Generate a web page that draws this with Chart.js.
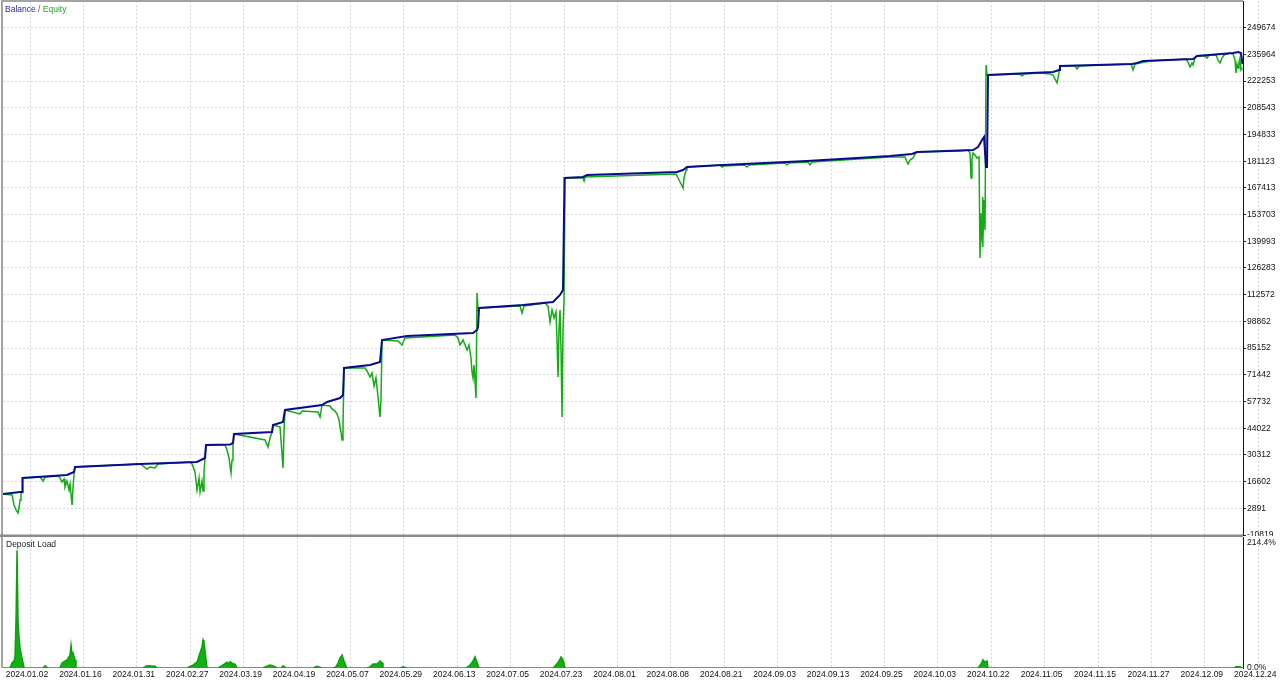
<!DOCTYPE html>
<html>
<head>
<meta charset="utf-8">
<title>Balance / Equity</title>
<script src="https://cdn.jsdelivr.net/npm/chart.js@4.4.1/dist/chart.umd.min.js"></script>
<style>
  html, body { margin: 0; padding: 0; background: #fff; }
  body { width: 1280px; height: 682px; position: relative; overflow: hidden; font-family: 'Liberation Sans', Arial, sans-serif; }
  #balance-wrap { position: absolute; left: 0; top: 0; width: 1280px; height: 536px; }
  #load-wrap { position: absolute; left: 0; top: 536px; width: 1280px; height: 146px; }
  .caption { position: absolute; font-size: 8.5px; line-height: 10px; color: #222; white-space: nowrap; }
  #caption-balance { left: 5px; top: 4px; }
  #caption-load { left: 6px; top: 539px; }
</style>
</head>
<body>
<div id="balance-wrap"><canvas id="balance-chart"></canvas></div>
<div id="load-wrap"><canvas id="load-chart"></canvas></div>
<div class="caption" id="caption-balance"><span style="color:#2a2aa8">Balance</span> <span style="color:#555">/</span> <span style="color:#22a822">Equity</span></div>
<div class="caption" id="caption-load">Deposit Load</div>

<script>
// x positions are tester steps, one date gridline every 10 steps
const dateLabels = ['2024.01.02', '2024.01.16', '2024.01.31', '2024.02.27', '2024.03.19', '2024.04.19',
  '2024.05.07', '2024.05.29', '2024.06.13', '2024.07.05', '2024.07.23', '2024.08.01', '2024.08.08',
  '2024.08.21', '2024.09.03', '2024.09.13', '2024.09.25', '2024.10.03', '2024.10.22', '2024.11.05',
  '2024.11.15', '2024.11.27', '2024.12.09', '2024.12.24'];
const dateSteps = [0, 10, 20, 30, 40, 50, 60, 70, 80, 90, 100, 110, 120, 130, 140, 150, 160, 170, 180, 190, 200, 210, 220, 230];
const stepMin = -5.06;
const stepMax = 227.15;

// balance axis
const balanceTicks = [-10819, 2891, 16602, 30312, 44022, 57732, 71442, 85152, 98862, 112572, 126283,
  139993, 153703, 167413, 181123, 194833, 208543, 222253, 235964, 249674];
const balanceMin = -10819;
const balanceMax = 263384;

// deposit load axis
const loadTicks = [0, 214.4];
const loadMax = 224.7;

// balance
const balX = [-5.06, -1.87, -1.50, -1.40, 6.93, 8.24, 8.43, 20.60, 31.27, 32.77, 32.96, 37.45, 38.01, 38.20,
  45.32, 45.51, 47.38, 47.75, 54.68, 55.62, 58.05, 58.61, 58.80, 63.67, 65.54, 65.92, 70.60, 82.96, 83.71,
  83.90, 84.08, 92.32, 97.94, 99.25, 99.81, 100.09, 103.56, 104.31, 121.16, 122.28, 123.03, 129.78, 145.51,
  161.05, 165.17, 166.10, 176.59, 177.53, 178.28, 178.65, 179.03, 179.21, 179.40, 191.57, 192.70, 192.88,
  206.37, 207.30, 208.43, 217.79, 218.54, 225.28, 226.22, 226.78, 227.06];
const balY = [10234, 11261, 11261, 18450, 19990, 21530, 24098, 25638, 26665, 28720, 35395, 35600, 36422, 41043,
  42070, 45665, 47205, 53367, 55935, 57475, 59529, 61070, 74934, 76474, 78015, 89312, 91366, 92906, 94446,
  95987, 105743, 107284, 108824, 112419, 114986, 172497, 173010, 174037, 175578, 176605, 178145, 179172, 181226,
  183794, 184821, 185848, 186875, 188415, 192010, 193550, 178145, 178145, 225386, 226927, 227954, 230008,
  231035, 231548, 232575, 233602, 235143, 236683, 237197, 236683, 231035];

// equity
const eqX = [-5.06, -3.37, -3.00, -2.62, -2.25, -2.06, -1.87, -1.69, -1.50, -1.40, 1.87, 2.43, 2.81, 5.24,
  5.62, 5.99, 6.37, 6.55, 6.93, 7.30, 7.49, 7.87, 8.05, 8.24, 8.43, 20.60, 21.16, 21.91, 22.47, 23.41, 23.97,
  29.96, 30.34, 30.90, 31.27, 31.65, 31.84, 32.21, 32.40, 32.58, 32.77, 32.96, 36.52, 36.89, 37.27, 37.45,
  37.64, 37.83, 38.01, 38.20, 44.01, 44.57, 44.94, 45.32, 45.51, 46.82, 47.38, 47.57, 47.75, 50.56, 50.94,
  53.93, 54.31, 54.68, 56.18, 56.55, 57.12, 57.49, 57.87, 58.05, 58.24, 58.43, 58.61, 58.80, 62.73, 63.11,
  63.67, 64.04, 64.42, 64.79, 65.17, 65.54, 65.73, 65.92, 68.91, 69.66, 70.22, 79.59, 80.15, 80.52, 81.09,
  81.84, 82.21, 82.58, 82.77, 82.96, 83.15, 83.52, 83.71, 83.90, 84.08, 91.76, 92.13, 92.51, 96.44, 97.00,
  97.38, 97.75, 98.13, 98.50, 98.69, 98.88, 99.06, 99.25, 99.44, 99.63, 99.81, 100.00, 100.19, 103.56, 103.75,
  103.93, 120.97, 121.35, 121.72, 122.10, 122.28, 122.47, 122.85, 123.03, 129.21, 129.59, 129.96, 133.71,
  134.27, 134.64, 141.39, 141.76, 142.13, 145.69, 146.07, 146.44, 161.05, 163.86, 164.23, 164.42, 164.79,
  165.36, 165.73, 166.10, 174.16, 175.66, 176.03, 176.22, 176.40, 176.59, 176.97, 177.34, 177.72, 177.90,
  178.09, 178.28, 178.37, 178.46, 178.65, 178.84, 179.03, 179.21, 179.40, 185.39, 185.77, 186.14, 189.14,
  191.01, 191.57, 191.95, 192.32, 192.51, 192.88, 195.69, 196.07, 196.44, 206.18, 206.55, 206.93, 209.74,
  216.48, 216.85, 217.23, 217.60, 217.79, 218.16, 218.54, 220.04, 220.41, 220.79, 222.10, 222.47, 222.85,
  223.22, 223.60, 224.72, 225.28, 225.66, 225.84, 226.03, 226.22, 226.40, 226.59, 226.78, 227.06];
const eqY = [10234, 9721, 4586, 2018, 480, 3045, 7153, 10234, 11261, 18450, 18963, 16909, 18963, 19476,
  18450, 16396, 17936, 13829, 16909, 12288, 15369, 4586, 13315, 20503, 24098, 25638, 24612, 23071, 24098, 23585, 25638,
  26665, 25638, 21530, 12288, 18450, 11261, 16909, 11775, 21530, 28720, 35395, 35395, 32828, 28720, 24612,
  21017, 27693, 35395, 41043, 37963, 34368, 38989, 42070, 45665, 44634, 23585, 43097, 53367, 51313, 52854,
  52341, 49773, 55935, 55421, 53881, 52854, 51313, 48232, 44634, 42070, 37963, 45151, 74934, 74934, 73393,
  70312, 72366, 65691, 69799, 60043, 49773, 58502, 89312, 88798, 86744, 90339, 91879, 90339, 86744, 89312,
  84172, 86744, 80069, 72900, 69799, 76474, 59529, 113446, 104716, 105743, 106770, 103176, 106770, 108311, 106770,
  98554, 104716, 100609, 103690, 89312, 70312, 94446, 104716, 84172, 49773, 94446, 109851, 172497, 172497, 170957,
  173010, 174550, 172497, 170443, 168389, 167362, 172497, 176605, 178145, 179172, 178145, 178658, 179172,
  178145, 179172, 180199, 179172, 180199, 180712, 179172, 180712, 183280, 183280, 180712, 179685, 181739,
  182766, 184821, 185848, 186361, 186875, 185334, 172497, 181739, 185334, 184307, 182766, 183280, 131418,
  154525, 140661, 162741, 137067, 161201, 145795, 230521, 225386, 225386, 225899, 224872, 225899, 226413,
  225899, 225386, 223333, 221279, 223847, 230008, 230008, 228468, 230008, 231035, 227954, 231035, 232575,
  233602, 232061, 229494, 231548, 230521, 234116, 235143, 235143, 234116, 235656, 235656, 233089, 231548,
  234116, 235656, 236683, 236170, 233089, 226413, 231035, 228981, 232061, 234116, 227954, 228981];

// deposit load, %
const loadX = [-5.06, -3.75, -3.37, -3.00, -2.81, -2.62, -2.43, -2.25, -2.06, -1.87, -1.50, -1.31, -1.12,
  2.43, 2.81, 3.37, 5.62, 5.99, 6.93, 7.49, 7.68, 7.87, 8.05, 8.43, 8.61, 21.16, 21.91, 23.41, 23.78,
  29.40, 30.52, 31.27, 31.84, 32.21, 32.40, 32.58, 32.77, 32.96, 33.15, 35.21, 35.96, 36.89, 37.27, 37.45,
  38.01, 38.39, 38.76, 43.63, 44.38, 44.94, 45.69, 46.25, 47.00, 47.38, 47.94, 53.00, 53.75, 54.68, 56.74,
  57.30, 57.68, 58.05, 58.43, 58.80, 59.18, 59.36, 63.11, 63.67, 64.23, 64.98, 65.54, 65.92, 66.10, 69.29,
  69.85, 70.60, 81.65, 82.40, 82.96, 83.33, 83.71, 84.08, 97.94, 98.50, 99.06, 99.44, 99.81, 100.19,
  177.53, 178.09, 178.46, 178.84, 179.21, 179.40, 225.47, 225.84, 226.59, 226.97, 227.15];
const loadY = [0, 0, 8.6, 12, 19, 82, 202, 82, 53, 34, 17, 9, 0,
  0, 4, 0, 0, 8.6, 13.7, 22, 39, 24, 26, 14, 0, 0, 4, 3, 0,
  0, 5, 10, 26, 36, 48, 43, 30, 14, 0, 0, 4, 10, 7, 11,
  7, 7, 0, 0, 3, 5, 3, 0, 0, 4, 0, 0, 3, 0, 0,
  2, 8.6, 17, 22, 12, 3, 0, 0, 2, 7, 7, 12, 9, 0, 0,
  2, 0, 0, 5, 12, 19, 10, 0, 0, 5, 12, 19, 14, 0,
  0, 7, 14, 10, 12, 0, 0, 2, 2, 0, 0];

function pairs(xs, ys) {
  return xs.map((x, i) => ({ x: x, y: ys[i] }));
}

const gridColor = '#d6d6d6';
const tickFont = { family: "'Liberation Sans', Arial, sans-serif", size: 8.5 };
const tickColor = '#111';
const frameColor = '#a4a4a4';

// grey frame round the balance panel and the separator under it
const balanceFrame = {
  id: 'balanceFrame',
  afterDraw(chart) {
    const ctx = chart.ctx;
    const area = chart.chartArea;
    ctx.save();
    ctx.strokeStyle = frameColor;
    ctx.lineWidth = 2;
    ctx.beginPath();
    ctx.moveTo(2, area.bottom);
    ctx.lineTo(2, 1);
    ctx.lineTo(area.right, 1);
    ctx.stroke();
    ctx.strokeStyle = '#8a8a8a';
    ctx.beginPath();
    ctx.moveTo(0, area.bottom + 0.5);
    ctx.lineTo(area.right, area.bottom + 0.5);
    ctx.stroke();
    ctx.restore();
  }
};

const loadFrame = {
  id: 'loadFrame',
  afterDraw(chart) {
    const ctx = chart.ctx;
    const area = chart.chartArea;
    ctx.save();
    ctx.strokeStyle = frameColor;
    ctx.lineWidth = 2;
    ctx.beginPath();
    ctx.moveTo(2, 0);
    ctx.lineTo(2, area.bottom);
    ctx.stroke();
    ctx.strokeStyle = '#8a8a8a';
    ctx.lineWidth = 1;
    ctx.beginPath();
    ctx.moveTo(0, 0.5);
    ctx.lineTo(area.right, 0.5);
    ctx.stroke();
    ctx.restore();
  }
};

// balance / equity chart
new Chart(document.getElementById('balance-chart'), {
  type: 'line',
  data: {
    datasets: [{
      label: 'Balance',
      data: pairs(balX, balY),
      borderColor: '#0b0b8e',
      borderWidth: 2,
      pointRadius: 0,
      tension: 0
    }, {
      label: 'Equity',
      data: pairs(eqX, eqY),
      borderColor: '#14ab14',
      borderWidth: 1.5,
      pointRadius: 0,
      tension: 0
    }]
  },
  options: {
    responsive: true,
    maintainAspectRatio: false,
    animation: false,
    layout: { padding: { left: 3, top: 1, right: 0, bottom: 1 } },
    plugins: { legend: { display: false }, tooltip: { enabled: false } },
    scales: {
      x: {
        type: 'linear',
        min: stepMin,
        max: stepMax,
        afterBuildTicks: s => { s.ticks = dateSteps.map(v => ({ value: v })); },
        afterFit: s => { s.height = 0; s.paddingLeft = 0; s.paddingRight = 0; },
        ticks: { display: false },
        grid: { color: gridColor, drawTicks: false },
        border: { display: false, dash: [2, 2] }
      },
      y: {
        type: 'linear',
        position: 'right',
        min: balanceMin,
        max: balanceMax,
        afterBuildTicks: s => { s.ticks = balanceTicks.map(v => ({ value: v })); },
        afterFit: s => { s.width = 37; s.paddingTop = 0; s.paddingBottom = 0; },
        ticks: { font: tickFont, color: tickColor, padding: 1, callback: v => String(v) },
        grid: { color: gridColor, tickColor: '#222', tickLength: 3 },
        border: { display: true, color: '#111', width: 1, dash: [2, 2] }
      }
    }
  },
  plugins: [balanceFrame]
});

// deposit load chart
new Chart(document.getElementById('load-chart'), {
  type: 'line',
  data: {
    datasets: [{
      label: 'Deposit Load',
      data: pairs(loadX, loadY),
      borderColor: '#0e9e0e',
      backgroundColor: '#12b012',
      fill: 'origin',
      borderWidth: 1.5,
      pointRadius: 0,
      tension: 0
    }]
  },
  options: {
    responsive: true,
    maintainAspectRatio: false,
    animation: false,
    layout: { padding: { left: 3, top: 1, right: 0, bottom: 0 } },
    plugins: { legend: { display: false }, tooltip: { enabled: false } },
    scales: {
      x: {
        type: 'linear',
        min: stepMin,
        max: stepMax,
        afterBuildTicks: s => { s.ticks = dateSteps.map(v => ({ value: v })); },
        afterFit: s => { s.height = 14; s.paddingLeft = 0; s.paddingRight = 0; },
        ticks: {
          font: tickFont, color: tickColor, padding: 2, maxRotation: 0, autoSkip: false, labelOffset: -3,
          callback: (v, i) => dateLabels[i]
        },
        grid: { color: gridColor, drawTicks: false },
        border: { display: false, dash: [2, 2] }
      },
      y: {
        type: 'linear',
        position: 'right',
        min: 0,
        max: loadMax,
        afterBuildTicks: s => { s.ticks = loadTicks.map(v => ({ value: v })); },
        afterFit: s => { s.width = 37; s.paddingTop = 0; s.paddingBottom = 0; },
        ticks: { font: tickFont, color: tickColor, padding: 4, callback: v => v.toFixed(1) + '%' },
        grid: { display: false, drawTicks: false },
        border: { display: true, color: '#111', width: 1 }
      }
    }
  },
  plugins: [loadFrame]
});
</script>
</body>
</html>
